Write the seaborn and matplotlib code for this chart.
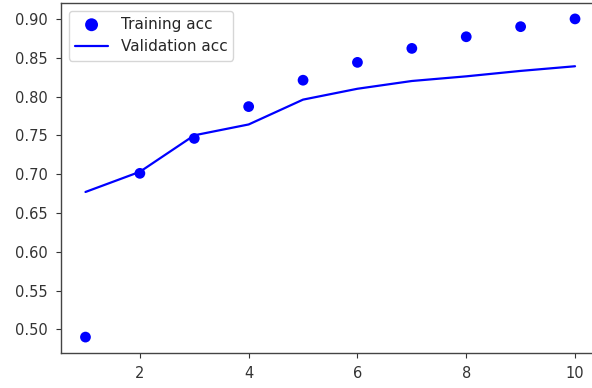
import matplotlib
matplotlib.use("Agg")
import matplotlib.pyplot as plt
import seaborn as sns
import pandas as pd

epochs = [1, 2, 3, 4, 5, 6, 7, 8, 9, 10]
train_acc = [0.490, 0.701, 0.746, 0.787, 0.821, 0.844, 0.862, 0.877, 0.890, 0.900]
val_acc = [0.677, 0.703, 0.750, 0.764, 0.796, 0.810, 0.820, 0.826, 0.833, 0.839]

df = pd.DataFrame({"epoch": epochs, "train": train_acc, "val": val_acc})

sns.set_style("ticks")
plt.rcParams["font.family"] = ["DejaVu Sans"]

fig = plt.figure(figsize=(5.92, 3.88), dpi=100)
ax = fig.add_axes([61 / 592, 35 / 388, 538.5 / 592, 350 / 388])

sns.scatterplot(data=df, x="epoch", y="train", ax=ax, color="blue", s=60,
                edgecolor="none", label="Training acc")
sns.lineplot(data=df, x="epoch", y="val", ax=ax, color="blue", linewidth=1.6,
             label="Validation acc")

ax.margins(x=0.05, y=0.05)
ax.set_xticks([2, 4, 6, 8, 10])
ax.set_yticks([0.50, 0.55, 0.60, 0.65, 0.70, 0.75, 0.80, 0.85, 0.90])
ax.set_xlabel("")
ax.set_ylabel("")
for s in ax.spines.values():
    s.set_color("#444444")
    s.set_linewidth(1.0)
ax.tick_params(colors="#333333", labelsize=10.5, length=3.5, pad=6)
ax.legend(loc="upper left", fontsize=11, frameon=True, markerscale=1.2,
          handlelength=2.2)

fig.savefig("out.png", dpi=100)
